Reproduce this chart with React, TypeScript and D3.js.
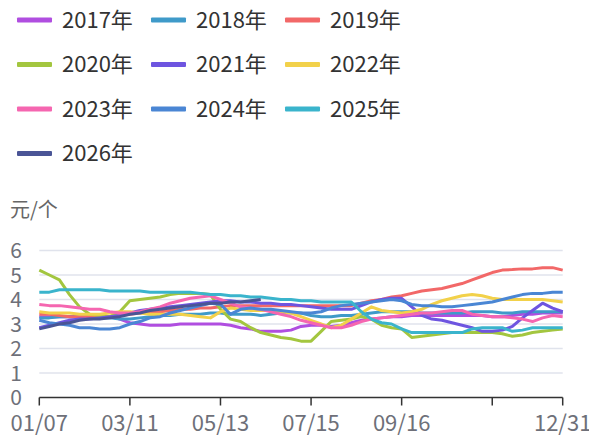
import * as d3 from 'd3';
import { useEffect } from 'react';

const weeks = [
	'01/07', '01/14', '01/21', '01/28', '02/04', '02/11', '02/18', '02/25', '03/04', '03/11',
	'03/18', '03/25', '04/01', '04/08', '04/15', '04/22', '04/29', '05/06', '05/13', '05/20',
	'05/27', '06/03', '06/10', '06/17', '06/24', '07/01', '07/08', '07/15', '07/22', '07/29',
	'08/05', '08/12', '08/19', '08/26', '09/02', '09/09', '09/16', '09/23', '09/30', '10/07',
	'10/14', '10/21', '10/28', '11/04', '11/11', '11/18', '11/25', '12/02', '12/09', '12/16',
	'12/23', '12/30', '12/31',
];

// ticks every 9 weeks, label of 11/18 is hidden (overlaps the last one)
const tickWeeks = ['01/07', '03/11', '05/13', '07/15', '09/16', '11/18', '12/31'];
const labelWeeks = ['01/07', '03/11', '05/13', '07/15', '09/16', '12/31'];
const yTicks = [0, 1, 2, 3, 4, 5, 6];

const years = ['2017年', '2018年', '2019年', '2020年', '2021年', '2022年', '2023年', '2024年', '2025年', '2026年'];
const colors = ['#b04ee0', '#3f9ac9', '#f26868', '#a3c63f', '#6e55e0', '#f2d14a', '#f566b0', '#4a86d4', '#3ab4cc', '#4a5596'];

const y2017 = [3.3, 3.3, 3.3, 3.3, 3.3, 3.3, 3.3, 3.3, 3.2, 3.05, 3.0, 2.95, 2.95, 2.95, 3.0, 3.0, 3.0, 3.0, 3.0, 2.95, 2.85, 2.8, 2.7, 2.7, 2.7, 2.75, 2.9, 2.95, 2.95, 2.9, 2.95, 3.05, 3.15, 3.2, 3.25, 3.3, 3.3, 3.35, 3.35, 3.35, 3.35, 3.35, 3.35, 3.35, 3.35, 3.3, 3.3, 3.35, 3.4, 3.4, 3.45, 3.45, 3.45];
const y2018 = [3.25, 3.25, 3.3, 3.3, 3.3, 3.3, 3.25, 3.25, 3.2, 3.2, 3.25, 3.3, 3.35, 3.35, 3.4, 3.4, 3.4, 3.45, 3.45, 3.4, 3.4, 3.4, 3.35, 3.4, 3.45, 3.45, 3.45, 3.35, 3.3, 3.3, 3.35, 3.35, 3.4, 3.45, 3.5, 3.5, 3.5, 3.5, 3.45, 3.45, 3.45, 3.45, 3.45, 3.5, 3.5, 3.5, 3.45, 3.45, 3.5, 3.5, 3.5, 3.5, 3.5];
const y2019 = [3.4, 3.4, 3.35, 3.3, 3.3, 3.3, 3.3, 3.3, 3.35, 3.4, 3.45, 3.5, 3.5, 3.55, 3.6, 3.6, 3.65, 3.65, 3.7, 3.75, 3.75, 3.75, 3.75, 3.75, 3.75, 3.75, 3.75, 3.75, 3.75, 3.75, 3.75, 3.75, 3.85, 3.95, 4.0, 4.1, 4.15, 4.25, 4.35, 4.4, 4.45, 4.55, 4.65, 4.8, 4.95, 5.1, 5.2, 5.22, 5.25, 5.25, 5.3, 5.3, 5.2];
const y2020 = [5.2, 5.0, 4.8, 4.2, 3.7, 3.4, 3.35, 3.3, 3.5, 3.95, 4.0, 4.05, 4.1, 4.2, 4.25, 4.25, 4.25, 4.2, 3.6, 3.2, 3.1, 2.85, 2.65, 2.55, 2.45, 2.4, 2.3, 2.3, 2.7, 3.1, 3.15, 3.2, 3.3, 3.2, 2.95, 2.85, 2.8, 2.45, 2.5, 2.55, 2.6, 2.65, 2.65, 2.65, 2.65, 2.65, 2.6, 2.5, 2.55, 2.65, 2.7, 2.75, 2.8];
const y2021 = [2.85, 2.95, 3.05, 3.15, 3.2, 3.2, 3.25, 3.3, 3.35, 3.45, 3.55, 3.6, 3.65, 3.7, 3.75, 3.8, 3.85, 3.9, 3.95, 3.95, 3.9, 3.9, 3.85, 3.85, 3.8, 3.8, 3.75, 3.7, 3.65, 3.6, 3.6, 3.6, 3.75, 3.9, 4.0, 4.05, 4.05, 3.7, 3.35, 3.2, 3.15, 3.05, 2.95, 2.85, 2.7, 2.7, 2.75, 2.9, 3.25, 3.55, 3.85, 3.65, 3.5];
const y2022 = [3.5, 3.45, 3.45, 3.45, 3.4, 3.4, 3.4, 3.45, 3.5, 3.5, 3.45, 3.4, 3.4, 3.4, 3.4, 3.35, 3.3, 3.25, 3.5, 3.65, 3.6, 3.55, 3.55, 3.55, 3.5, 3.45, 3.3, 3.15, 3.0, 2.85, 2.95, 3.2, 3.45, 3.7, 3.55, 3.5, 3.45, 3.5, 3.6, 3.8, 3.95, 4.05, 4.15, 4.2, 4.15, 4.05, 4.0, 4.0, 4.0, 4.0, 4.0, 3.95, 3.9];
const y2023 = [3.8, 3.75, 3.75, 3.7, 3.65, 3.6, 3.6, 3.5, 3.45, 3.45, 3.5, 3.6, 3.7, 3.85, 3.95, 4.05, 4.1, 4.15, 4.0, 3.85, 3.7, 3.65, 3.6, 3.5, 3.4, 3.3, 3.15, 3.05, 2.95, 2.85, 2.85, 2.95, 3.1, 3.2, 3.25, 3.3, 3.35, 3.4, 3.45, 3.45, 3.5, 3.55, 3.55, 3.4, 3.35, 3.3, 3.3, 3.25, 3.2, 3.1, 3.25, 3.35, 3.3];
const y2024 = [3.15, 3.05, 3.0, 2.95, 2.85, 2.85, 2.8, 2.8, 2.85, 3.0, 3.1, 3.25, 3.3, 3.45, 3.55, 3.65, 3.75, 3.85, 3.8, 3.4, 3.6, 3.65, 3.6, 3.6, 3.55, 3.5, 3.45, 3.45, 3.5, 3.65, 3.75, 3.8, 3.85, 3.9, 3.95, 4.0, 3.95, 3.8, 3.75, 3.75, 3.7, 3.7, 3.75, 3.8, 3.85, 3.9, 4.0, 4.1, 4.2, 4.25, 4.25, 4.3, 4.3];
const y2025 = [4.3, 4.3, 4.4, 4.4, 4.4, 4.4, 4.4, 4.35, 4.35, 4.35, 4.35, 4.3, 4.3, 4.3, 4.3, 4.3, 4.25, 4.2, 4.2, 4.15, 4.15, 4.1, 4.1, 4.05, 4.0, 4.0, 3.95, 3.95, 3.9, 3.9, 3.9, 3.9, 3.5, 3.2, 3.05, 3.0, 2.8, 2.65, 2.65, 2.65, 2.65, 2.65, 2.65, 2.8, 2.85, 2.85, 2.85, 2.7, 2.75, 2.85, 2.85, 2.85, 2.85];
const y2026 = [2.8, 2.9, 3.0, 3.05, 3.15, 3.2, 3.2, 3.25, 3.3, 3.4, 3.45, 3.55, 3.6, 3.65, 3.7, 3.75, 3.8, 3.85, 3.85, 3.9, 3.9, 3.95, 4.0];

const seriesValues = [y2017, y2018, y2019, y2020, y2021, y2022, y2023, y2024, y2025, y2026];

const FONT = '"Noto Sans CJK SC", "Noto Sans", sans-serif';

export default function App() {
	useEffect(() => {
		document.body.style.margin = '0';
	}, []);

	const width = 589;
	const height = 439;
	const margin = { left: 39.3, right: 26.3, top: 250.5, bottom: 41.5 };

	const x = d3.scalePoint<string>().domain(weeks).range([margin.left, width - margin.right]);
	const y = d3.scaleLinear().domain([0, 6]).range([height - margin.bottom, margin.top]);

	const line = d3
		.line<number>()
		.x((_, i) => x(weeks[i])!)
		.y((d) => y(d));

	// легенда: 3 колонки
	const legendX = [17, 151, 285];
	const legendRowY = [20, 64.5, 109, 153.5];

	return (
		<svg width={width} height={height} style={{ display: 'block', fontFamily: FONT }}>
			<rect width={width} height={height} fill="#fff" />

			{years.map((name, i) => {
				const lx = legendX[i % 3];
				const ly = legendRowY[Math.floor(i / 3)];
				return (
					<g key={name}>
						<rect x={lx} y={ly - 2.5} width={35} height={5} rx={1} fill={colors[i]} />
						<text x={lx + 45} y={ly} dy="0.36em" fontSize={22} fill="#333">
							{name}
						</text>
					</g>
				);
			})}

			<text x={10} y={210} dy="0.36em" fontSize={20} fill="#666">
				元/个
			</text>

			{yTicks.map((t) => (
				<g key={t}>
					{t > 0 && (
						<line
							x1={margin.left}
							x2={width - margin.right}
							y1={y(t)}
							y2={y(t)}
							stroke="#e0e3ec"
							strokeWidth={1.5}
						/>
					)}
					<text x={22} y={y(t)} dy="0.36em" textAnchor="end" fontSize={21} fill="#6e7079">
						{t}
					</text>
				</g>
			))}

			<line
				x1={margin.left}
				x2={width - margin.right}
				y1={y(0)}
				y2={y(0)}
				stroke="#333"
				strokeWidth={1.5}
			/>
			{tickWeeks.map((w) => (
				<line key={w} x1={x(w)} x2={x(w)} y1={y(0)} y2={y(0) + 8} stroke="#333" strokeWidth={1.5} />
			))}
			{labelWeeks.map((w) => (
				<text key={w} x={x(w)} y={y(0) + 26} dy="0.36em" textAnchor="middle" fontSize={22} fill="#6e7079">
					{w}
				</text>
			))}

			{seriesValues.map((vals, i) => (
				<path
					key={years[i]}
					d={line(vals) ?? ''}
					fill="none"
					stroke={colors[i]}
					strokeWidth={3}
					strokeLinejoin="round"
				/>
			))}
		</svg>
	);
}
